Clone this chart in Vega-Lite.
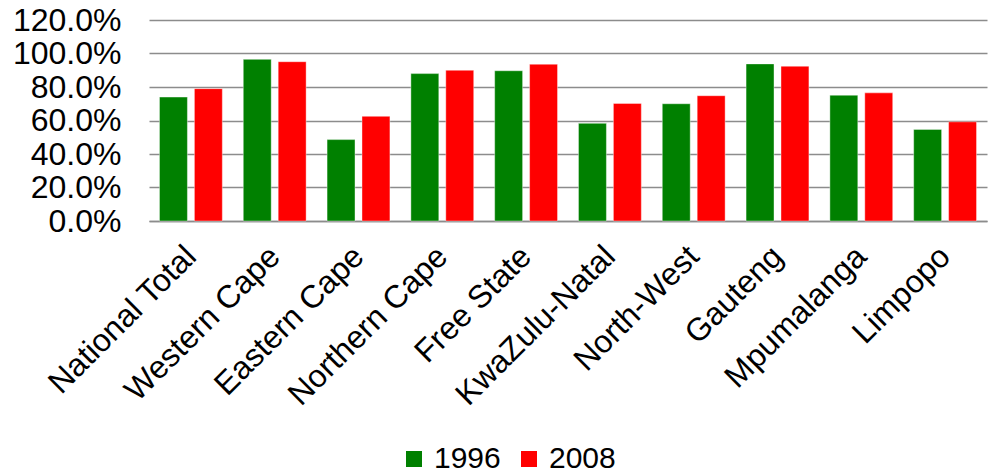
{
  "$schema": "https://vega.github.io/schema/vega-lite/v6.json",
  "width": 838,
  "height": 201,
  "autosize": {"type": "none"},
  "padding": {"left": 149, "top": 20, "right": 3, "bottom": 252},
  "background": "white",
  "config": {
    "font": "Liberation Sans",
    "view": {"stroke": null}
  },
  "data": {
    "values": [
      {"region": "National Total", "year": "1996", "value": 0.740},
      {"region": "National Total", "year": "2008", "value": 0.790},
      {"region": "Western Cape", "year": "1996", "value": 0.965},
      {"region": "Western Cape", "year": "2008", "value": 0.951},
      {"region": "Eastern Cape", "year": "1996", "value": 0.486},
      {"region": "Eastern Cape", "year": "2008", "value": 0.625},
      {"region": "Northern Cape", "year": "1996", "value": 0.880},
      {"region": "Northern Cape", "year": "2008", "value": 0.900},
      {"region": "Free State", "year": "1996", "value": 0.897},
      {"region": "Free State", "year": "2008", "value": 0.936},
      {"region": "KwaZulu-Natal", "year": "1996", "value": 0.583},
      {"region": "KwaZulu-Natal", "year": "2008", "value": 0.702},
      {"region": "North-West", "year": "1996", "value": 0.700},
      {"region": "North-West", "year": "2008", "value": 0.748},
      {"region": "Gauteng", "year": "1996", "value": 0.938},
      {"region": "Gauteng", "year": "2008", "value": 0.924},
      {"region": "Mpumalanga", "year": "1996", "value": 0.751},
      {"region": "Mpumalanga", "year": "2008", "value": 0.765},
      {"region": "Limpopo", "year": "1996", "value": 0.547},
      {"region": "Limpopo", "year": "2008", "value": 0.592}
    ]
  },
  "mark": {"type": "bar", "stroke": "#ffffff", "strokeWidth": 1, "strokeOpacity": 0.4},
  "encoding": {
    "x": {
      "field": "region",
      "type": "nominal",
      "sort": null,
      "scale": {"paddingInner": 0.25, "paddingOuter": 0.125},
      "axis": {
        "title": null,
        "labelAngle": -45,
        "labelAlign": "right",
        "labelBaseline": "middle",
        "labelFontSize": 32,
        "labelColor": "#000000",
        "labelPadding": 30,
        "ticks": false,
        "domainColor": "#8c8c8c",
        "domainWidth": 1.5,
        "labelLimit": 400
      }
    },
    "xOffset": {
      "field": "year",
      "type": "nominal",
      "scale": {"paddingInner": 0.2, "paddingOuter": 0}
    },
    "y": {
      "field": "value",
      "type": "quantitative",
      "scale": {"domain": [0, 1.2], "nice": false},
      "axis": {
        "title": null,
        "format": ".1%",
        "values": [0, 0.2, 0.4, 0.6, 0.8, 1.0, 1.2],
        "labelFontSize": 32,
        "labelColor": "#000000",
        "labelPadding": 28,
        "ticks": false,
        "domain": false,
        "gridColor": "#8c8c8c",
        "gridWidth": 1.5
      }
    },
    "color": {
      "field": "year",
      "type": "nominal",
      "scale": {"domain": ["1996", "2008"], "range": ["#008000", "#ff0000"]},
      "legend": {
        "title": null,
        "orient": "none",
        "direction": "horizontal",
        "legendX": 250,
        "legendY": 424,
        "symbolType": "square",
        "symbolSize": 256,
        "symbolStrokeWidth": 0,
        "labelFontSize": 30,
        "labelColor": "#000000",
        "labelOffset": 5,
        "columnPadding": 13,
        "labelLimit": 200
      }
    }
  }
}
